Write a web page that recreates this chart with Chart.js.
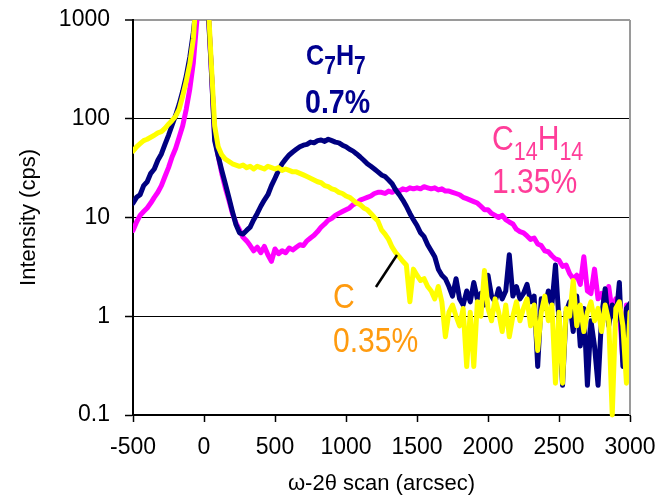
<!DOCTYPE html>
<html lang="en">
<head>
<meta charset="UTF-8">
<title>Intensity vs omega-2theta scan</title>
<script src="https://cdn.jsdelivr.net/npm/chart.js"></script>
<style>
  html, body { margin: 0; padding: 0; background: #fff; }
  #scanChart { display: block; }
</style>
</head>
<body>
<canvas id="scanChart" width="662" height="497"></canvas>
<script>
// scan positions in arcsec (25 arcsec steps), counts
const scanPositions = [
  -500, -475, -450, -425, -400, -375, -350, -325, -300, -275,
  -250, -225, -200, -175, -150, -125, -100, -75, -50, -25,
  0, 25, 50, 75, 100, 125, 150, 175, 200, 225,
  250, 275, 300, 325, 350, 375, 400, 425, 450, 475,
  500, 525, 550, 575, 600, 625, 650, 675, 700, 725,
  750, 775, 800, 825, 850, 875, 900, 925, 950, 975,
  1000, 1025, 1050, 1075, 1100, 1125, 1150, 1175, 1200, 1225,
  1250, 1275, 1300, 1325, 1350, 1375, 1400, 1425, 1450, 1475,
  1500, 1525, 1550, 1575, 1600, 1625, 1650, 1675, 1700, 1725,
  1750, 1775, 1800, 1825, 1850, 1875, 1900, 1925, 1950, 1975,
  2000, 2025, 2050, 2075, 2100, 2125, 2150, 2175, 2200, 2225,
  2250, 2275, 2300, 2325, 2350, 2375, 2400, 2425, 2450, 2475,
  2500, 2525, 2550, 2575, 2600, 2625, 2650, 2675, 2700, 2725,
  2750, 2775, 2800, 2825, 2850, 2875, 2900, 2925, 2950, 2975,
  3000
];

// C7H7 0.7% (navy)
const c7h7Counts = [
  14, 16, 17, 21, 23, 28, 31, 38, 44, 55,
  68, 86, 108, 140, 190, 270, 420, 750, 1600, 4000,
  6000, 1600, 350, 60, 42, 30, 22, 16, 11.5, 8.5,
  7.0, 6.8, 7.4, 8.0, 9.5, 11, 13, 15, 17, 21,
  25, 30, 35, 39, 43, 46, 49, 52, 54, 55,
  58, 57, 60, 61, 59, 62, 60, 58, 57, 54,
  52, 49, 47, 44, 41, 38, 35, 33, 31, 29,
  27, 26, 24, 22, 19, 17, 15, 13, 11, 9.5,
  8.3, 7.0, 6.4, 5.3, 4.6, 4.0, 3.0, 2.6, 2.4, 2.0,
  1.6, 2.4, 1.5, 1.3, 1.8, 1.4, 2.2, 1.5, 1.7, 1.3,
  2.6, 1.6, 1.4, 1.9, 1.5, 1.8, 4.2, 1.6, 2.0, 1.5,
  1.7, 2.1, 1.4, 1.6, 0.31, 1.5, 1.2, 1.8, 1.3, 3.3,
  0.9, 0.2, 1.1, 1.4, 0.7, 1.6, 0.5, 1.2, 0.2, 0.9,
  0.5, 0.2, 1.0, 1.9, 0.8, 1.3, 0.9, 2.2, 0.31, 1.2,
  1.35
];

// C14H14 1.35% (magenta)
const c14h14Counts = [
  7.4, 9.0, 10.5, 11.5, 12.5, 14, 16, 18, 21, 26,
  32, 41, 50, 65, 85, 125, 200, 370, 1000, 3000,
  6000, 1800, 350, 65, 42, 28, 20, 15, 11, 8.8,
  7.5, 6.3, 5.8, 5.2, 4.6, 5.0, 4.4, 5.1, 4.2, 3.6,
  4.8, 4.3, 4.6, 4.4, 4.9, 4.7, 5.0, 5.3, 5.2, 5.8,
  6.2, 6.6, 7.2, 8.0, 8.6, 9.4, 9.8, 10.5, 11, 11.5,
  12, 12.5, 13.5, 14, 15, 15.5, 16, 16.5, 17.5, 18,
  18, 17.5, 18.5, 18, 19, 18.5, 19.5, 19, 20, 19.5,
  20, 19.5, 20.5, 20, 19.5, 20, 19, 19.5, 18.5, 18.5,
  18, 17.5, 17, 16, 15.5, 15, 14.5, 14, 13, 12,
  12, 11, 10.5, 10, 10.5, 9.5, 9.0, 8.6, 7.6, 7.2,
  7.0, 6.5, 6.0, 6.2, 5.4, 5.2, 4.6, 4.5, 4.1, 3.8,
  3.7, 3.2, 3.3, 2.7, 2.4, 2.6, 2.1, 4.0, 1.8, 1.7,
  3.0, 1.5, 1.7, 1.3, 2.0, 1.1, 1.5, 1.2, 0.35, 1.3,
  0.6
];

// C 0.35% (yellow)
const cCounts = [
  47, 52, 56, 60, 62, 65, 68, 72, 74, 80,
  88, 96, 106, 125, 170, 240, 360, 650, 2000, 5000,
  7000, 2000, 400, 85, 52, 43, 39, 37, 35, 34,
  33, 34, 32, 33, 31, 33, 32, 31, 33, 32,
  31, 32, 30, 31, 30, 29, 29, 28, 27, 26,
  25, 24, 23, 22.5, 21, 20.5, 19.5, 19, 18, 17.5,
  16.5, 16, 15, 14, 13.5, 12.5, 12, 11, 10, 9.2,
  7.5, 6.8, 6.0, 5.0, 4.4, 4.0, 3.6, 3.3, 1.4, 3.0,
  2.6, 2.3, 2.4, 2.0, 1.8, 1.5, 2.0, 1.4, 0.62, 1.1,
  1.3, 1.0, 0.8, 1.2, 0.31, 1.1, 0.31, 1.4, 1.0, 2.9,
  1.2, 0.9, 1.5, 1.1, 0.7, 1.3, 0.62, 1.0, 1.4, 0.9,
  1.2, 1.5, 0.8, 1.3, 0.45, 1.1, 1.6, 0.9, 1.3, 0.21,
  1.1, 0.21, 1.2, 1.0, 2.3, 0.8, 1.3, 0.7, 1.1, 1.4,
  0.9, 1.2, 0.7, 1.3, 0.9, 0.1, 1.2, 1.4, 0.8, 0.21,
  1.1
];

const xTicks = [-500, 0, 500, 1000, 1500, 2000, 2500, 3000];
const yTicks = [0.1, 1, 10, 100, 1000];

// label text next to each curve
const c7h7Label = ['C7H7', '0.7%'];
const c14h14Label = ['C14H14', '1.35%'];
const cLabel = ['C', '0.35%'];
// leader line from the "C" label to its curve (x arcsec, y cps)
const leaderFrom = [1211, 1.98];
const leaderTo = [1359, 4.17];

const toPoints = (ys) => scanPositions.map((x, i) => ({ x: x, y: ys[i] }));

// no narrow font installed, so squeeze the regular one
const labelFont = '"Liberation Sans", Arial, sans-serif';

// letters normal, digits as subscripts
function drawFormula(ctx, text, x, y, color, weight, size, subSize, subDrop, squeeze) {
  ctx.save();
  ctx.translate(x, y);
  ctx.scale(squeeze, 1);
  ctx.fillStyle = color;
  ctx.textAlign = 'left';
  ctx.textBaseline = 'alphabetic';
  let cx = 0;
  for (const ch of text) {
    const sub = /\d/.test(ch);
    ctx.font = weight + ' ' + (sub ? subSize : size) + 'px ' + labelFont;
    ctx.fillText(ch, cx, sub ? subDrop : 0);
    cx += ctx.measureText(ch).width;
  }
  ctx.restore();
}

function drawPlain(ctx, text, x, y, color, weight, size, squeeze) {
  ctx.save();
  ctx.translate(x, y);
  ctx.scale(squeeze, 1);
  ctx.fillStyle = color;
  ctx.textAlign = 'left';
  ctx.textBaseline = 'alphabetic';
  ctx.font = weight + ' ' + size + 'px ' + labelFont;
  ctx.fillText(text, 0, 0);
  ctx.restore();
}

const notesPlugin = {
  id: 'notes',
  afterDraw(chart) {
    const ctx = chart.ctx;
    const xs = chart.scales.x, ys = chart.scales.y;
    const area = chart.chartArea;
    ctx.save();
    // right border of the plot area
    ctx.strokeStyle = '#9a9a9a';
    ctx.lineWidth = 2;
    ctx.beginPath();
    ctx.moveTo(area.right, area.top);
    ctx.lineTo(area.right, area.bottom);
    ctx.stroke();

    // leader line for C
    ctx.strokeStyle = '#000';
    ctx.lineWidth = 2.5;
    ctx.beginPath();
    ctx.moveTo(xs.getPixelForValue(leaderFrom[0]), ys.getPixelForValue(leaderFrom[1]));
    ctx.lineTo(xs.getPixelForValue(leaderTo[0]), ys.getPixelForValue(leaderTo[1]));
    ctx.stroke();
    ctx.restore();

    drawFormula(ctx, c7h7Label[0], 306, 65, '#000090', 'bold', 30, 25, 9, 0.84);
    drawPlain(ctx, c7h7Label[1], 305, 113, '#000090', 'bold', 34, 0.84);

    drawFormula(ctx, c14h14Label[0], 492, 150, '#ff3d99', 'normal', 35, 25, 10, 0.86);
    drawPlain(ctx, c14h14Label[1], 492, 193, '#ff3d99', 'normal', 35, 0.86);

    drawFormula(ctx, cLabel[0], 333, 308, '#ff9b0f', 'normal', 35, 25, 10, 0.86);
    drawPlain(ctx, cLabel[1], 333, 352, '#ff9b0f', 'normal', 35, 0.86);
  }
};

const tickFont = { family: '"Liberation Sans", Arial, sans-serif', size: 23 };
const titleFont = { family: '"Liberation Sans", Arial, sans-serif', size: 22 };

new Chart(document.getElementById('scanChart'), {
  type: 'line',
  data: {
    datasets: [
      { label: 'C 0.35%', data: toPoints(cCounts), borderColor: '#ffff00' },
      { label: 'C7H7 0.7%', data: toPoints(c7h7Counts), borderColor: '#000080' },
      { label: 'C14H14 1.35%', data: toPoints(c14h14Counts), borderColor: '#ff00ff' }
    ].map(ds => Object.assign(ds, {
      borderWidth: 5,
      pointRadius: 0,
      tension: 0,
      borderJoinStyle: 'round',
      borderCapStyle: 'round',
      fill: false,
      clip: { left: 0, top: 0, right: 0, bottom: 3 }
    }))
  },
  options: {
    responsive: false,
    animation: false,
    layout: { padding: { top: 20, right: 32, left: 0, bottom: 0 } },
    plugins: {
      legend: { display: false },
      tooltip: { enabled: false }
    },
    scales: {
      x: {
        type: 'linear',
        min: -500,
        max: 3000,
        afterBuildTicks: (s) => { s.ticks = xTicks.map(v => ({ value: v })); },
        afterFit: (s) => { s.height = 82; s.paddingLeft = 0; s.paddingRight = 0; },
        grid: { drawOnChartArea: false, tickLength: 7, tickColor: '#000', tickWidth: 1.5 },
        border: { color: '#000', width: 2 },
        ticks: { color: '#000', font: tickFont, padding: 12, maxRotation: 0, callback: (v) => String(v) },
        title: {
          display: true,
          text: 'ω-2θ scan (arcsec)',
          color: '#000',
          font: titleFont,
          padding: { top: 4, bottom: 0 }
        }
      },
      y: {
        type: 'logarithmic',
        min: 0.1,
        max: 1000,
        afterBuildTicks: (s) => { s.ticks = yTicks.map(v => ({ value: v })); },
        afterFit: (s) => { s.width = 133; s.paddingTop = 0; s.paddingBottom = 0; },
        grid: {
          color: (c) => (c.tick && c.tick.value === 1000 ? '#9a9a9a' : '#000'),
          lineWidth: (c) => (c.tick && c.tick.value === 1000 ? 2 : 1),
          tickLength: 8,
          tickColor: '#000',
          tickWidth: 1.5
        },
        border: { color: '#000', width: 2 },
        ticks: {
          color: '#000',
          font: tickFont,
          padding: 15,
          callback: (v) => String(v)
        },
        title: {
          display: true,
          text: 'Intensity (cps)',
          color: '#000',
          font: titleFont,
          padding: { top: 16, bottom: 0 }
        }
      }
    }
  },
  plugins: [notesPlugin]
});
</script>
</body>
</html>
